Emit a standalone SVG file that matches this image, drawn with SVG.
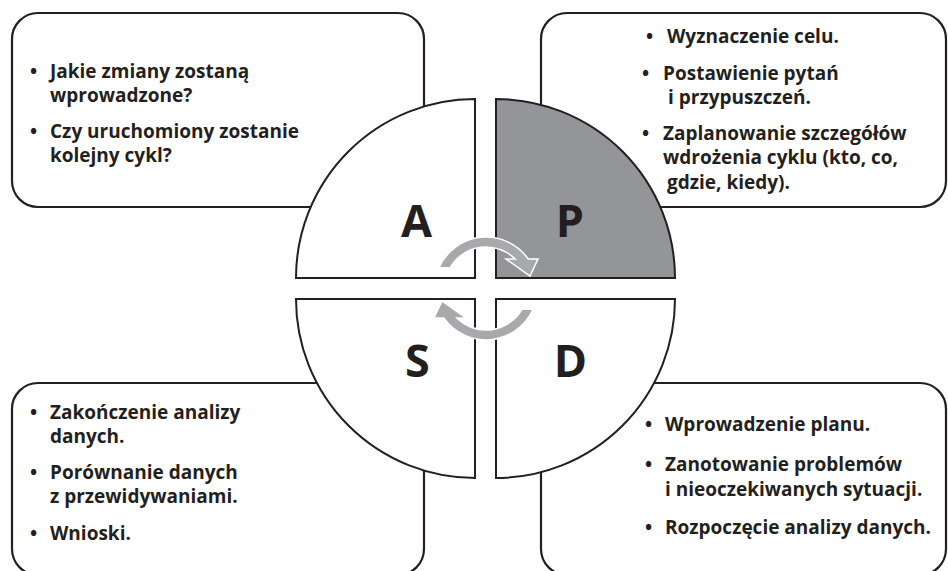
<svg xmlns="http://www.w3.org/2000/svg" width="948" height="571" viewBox="0 0 948 571">
<style>
.box{fill:#fff;stroke:#231f20;stroke-width:2.2}
.q{fill:#fff;stroke:#231f20;stroke-width:2}
.qp{fill:#939598;stroke:#231f20;stroke-width:2}
.t{font-family:"Open Sans","Liberation Sans",sans-serif;font-weight:700;font-size:19px;fill:#231f20}
.big{font-family:"Open Sans","Liberation Sans",sans-serif;font-weight:700;font-size:45px;fill:#231f20;text-anchor:middle}
.arr{fill:#a7a9ac;stroke:#fff;stroke-width:1.5;stroke-linejoin:miter}
</style>
<rect width="948" height="571" fill="#fff"/>
<g id="box-act">
<rect class="box" x="12" y="13" width="412" height="194" rx="26"/>
<text class="t" x="30" y="78">•</text><text class="t" x="50" y="78">Jakie zmiany zostaną</text>
<text class="t" x="50" y="102">wprowadzone?</text>
<text class="t" x="30" y="138">•</text><text class="t" x="50" y="138">Czy uruchomiony zostanie</text>
<text class="t" x="50" y="162">kolejny cykl?</text>
</g>
<g id="box-plan">
<rect class="box" x="541" y="13" width="405" height="194" rx="26"/>
<text class="t" x="646" y="43">•</text><text class="t" x="667" y="43">Wyznaczenie celu.</text>
<text class="t" x="642" y="80">•</text><text class="t" x="663" y="80">Postawienie pytań</text>
<text class="t" x="668" y="104">i przypuszczeń.</text>
<text class="t" x="642" y="140">•</text><text class="t" x="663" y="140">Zaplanowanie szczegółów</text>
<text class="t" x="663" y="164">wdrożenia cyklu (kto, co,</text>
<text class="t" x="667" y="189">gdzie, kiedy).</text>
</g>
<g id="box-study">
<rect class="box" x="12" y="383" width="412" height="192" rx="26"/>
<text class="t" x="30" y="419">•</text><text class="t" x="50" y="419">Zakończenie analizy</text>
<text class="t" x="50" y="443">danych.</text>
<text class="t" x="30" y="479">•</text><text class="t" x="50" y="479">Porównanie danych</text>
<text class="t" x="50" y="503">z przewidywaniami.</text>
<text class="t" x="30" y="540">•</text><text class="t" x="50" y="540">Wnioski.</text>
</g>
<g id="box-do">
<rect class="box" x="541" y="383" width="405" height="192" rx="26"/>
<text class="t" x="645" y="431">•</text><text class="t" x="665" y="431">Wprowadzenie planu.</text>
<text class="t" x="645" y="471">•</text><text class="t" x="665" y="471">Zanotowanie problemów</text>
<text class="t" x="665" y="496">i nieoczekiwanych sytuacji.</text>
<text class="t" x="645" y="534">•</text><text class="t" x="665" y="534">Rozpoczęcie analizy danych.</text>
</g>
<g id="quad-a">
<path class="q" d="M475,278 L296,278 A179,179 0 0 1 475,99 Z"/>
<text class="big" x="416.5" y="237">A</text>
</g>
<g id="quad-p">
<path class="qp" d="M496,278 L496,99 A179,179 0 0 1 675,278 Z"/>
<text class="big" x="570" y="237">P</text>
</g>
<g id="quad-s">
<path class="q" d="M475,299 L296,299 A179,179 0 0 0 475,478 Z"/>
<text class="big" x="417.5" y="377">S</text>
</g>
<g id="quad-d">
<path class="q" d="M496,299 L675,299 A179,179 0 0 1 496,478 Z"/>
<text class="big" x="570.5" y="377">D</text>
</g>
<g id="connectors">
<path id="arrow-top" class="arr" d="M439,267.7 A51.5,51.5 0 0 1 528.2,259 L538,259 L530,276 L506,259 L515.2,259 A41.5,41.5 0 0 0 450.1,267.7 Z"/>
<use href="#arrow-top" transform="rotate(180 486 288.5)"/>
</g>
</svg>
